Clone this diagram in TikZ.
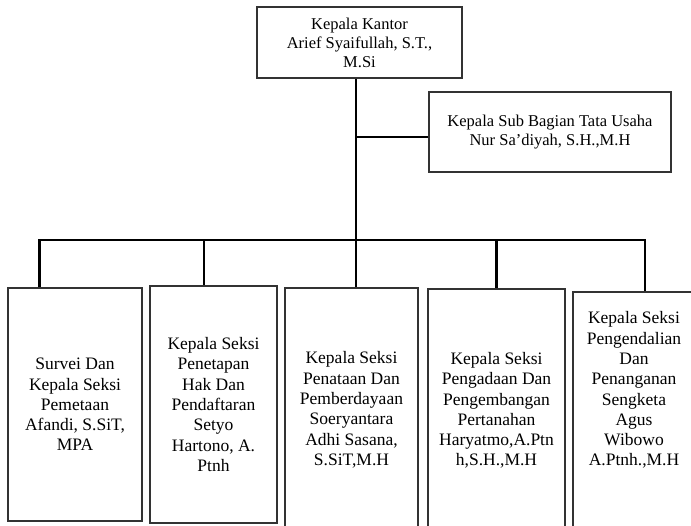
\documentclass[tikz,border=0pt]{standalone}
\usepackage{fontspec}
\setmainfont{Liberation Serif}
\usetikzlibrary{calc}

\tikzset{
    jabatan/.style={draw=black!80, line width=1.3pt, align=center, inner sep=2pt,
        font=\fontsize{16.5}{19}\selectfont},
    seksi/.style={jabatan, font=\fontsize{17.5}{20.3}\selectfont},
    garis/.style={black, line width=2.4pt}
}

\begin{document}
\begin{tikzpicture}[x=1pt, y=-1pt]
        % Fix the page size
        \useasboundingbox (0,0) rectangle (691,525);
        \clip (0,0) rectangle (691,525);
        % Draw the top boxes
        \node[jabatan, minimum width=205pt, minimum height=71pt] (kantor) at (359.5,42.5)
            {Kepala Kantor\\Arief Syaifullah, S.T.,\\M.Si};
        \node[jabatan, minimum width=242pt, minimum height=80pt] (tu) at (550,132)
            {Kepala Sub Bagian Tata Usaha\\Nur Sa'diyah, S.H.,M.H};
        % Draw the section boxes
        \node[seksi, minimum width=134pt, minimum height=233pt] (survei) at (75,404.5)
            {Survei Dan\\Kepala Seksi\\Pemetaan\\Afandi, S.SiT,\\MPA};
        \node[seksi, minimum width=127pt, minimum height=237pt] (hak) at (213.5,404.5)
            {Kepala Seksi\\Penetapan\\Hak Dan\\Pendaftaran\\Setyo\\Hartono, A.\\Ptnh};
        \node[seksi, minimum width=133pt, minimum height=244pt] (penataan) at (351.5,410)
            {Kepala Seksi\\Penataan Dan\\Pemberdayaan\\Soeryantara\\Adhi Sasana,\\S.SiT,M.H};
        \node[seksi, minimum width=137pt, minimum height=243pt] (pengadaan) at (496.5,410.5)
            {Kepala Seksi\\Pengadaan Dan\\Pengembangan\\Pertanahan\\Haryatmo,A.Ptn\\h,S.H.,M.H};
        \node[seksi, minimum width=122pt, minimum height=240pt] (sengketa) at (634,412)
            {Kepala Seksi\\Pengendalian\\Dan\\Penanganan\\Sengketa\\Agus\\Wibowo\\A.Ptnh.,M.H\\[26pt]\mbox{}};
        % Draw the connectors
        \coordinate (bar) at (356,240);
        \draw[garis] (kantor.south -| bar) -- (bar);
        \draw[garis] ([yshift=-5pt]tu.west) -- ([yshift=-5pt]tu.west -| bar);
        \draw[garis] ([xshift=32pt]survei.north west) |- (bar)
            -| ([xshift=-9.5pt]hak.north) ;
        \draw[garis] (bar) -| ([xshift=11pt]sengketa.north);
        \draw[garis] (bar) -- (bar |- penataan.north);
        \draw[garis] (bar -| pengadaan.north) -- (pengadaan.north);
\end{tikzpicture}
\end{document}
